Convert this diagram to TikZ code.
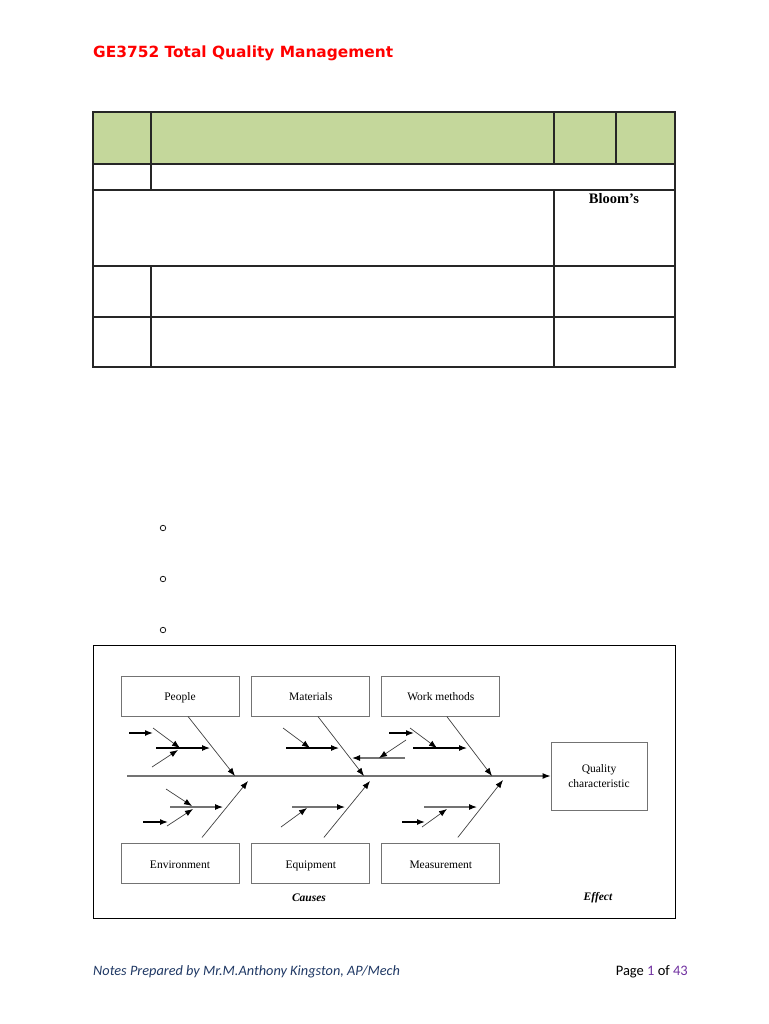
\documentclass[tikz,border=0pt]{standalone}
\usepackage{fontspec}
\setmainfont{Liberation Serif}
\newfontfamily\titlefont{DejaVu Sans}
\newfontfamily\footfont{Carlito}
\usetikzlibrary{positioning,arrows.meta}
\definecolor{hdrgreen}{HTML}{C4D79B}
\definecolor{titlered}{HTML}{FF0000}
\definecolor{footblue}{HTML}{1F3864}
\definecolor{pagepurple}{HTML}{7030A0}

\begin{document}
\begin{tikzpicture}[x=1pt,y=-1pt,
    tbl/.style={draw=black!85,line width=1.2pt},
    cause/.style={draw=black!55,line width=0.9pt,minimum width=118pt,minimum height=40pt,
      inner sep=0pt,text height=10pt,text depth=1pt,font=\fontsize{11.5}{15}\selectfont},
    bone/.style={draw=black!75,line width=0.7pt,-{Latex[length=8pt,width=6pt,color=black]}},
    rib/.style={bone,draw=black!55,line width=1.1pt},
    bar/.style={bone,draw=black,line width=1.1pt},
    stub/.style={bone,draw=black,line width=1.4pt}]
  \useasboundingbox (0,0) rectangle (768,1024);

  % heading
  \node[anchor=base west,inner sep=0pt,text=titlered,
    font=\titlefont\bfseries\fontsize{15.4}{18}\selectfont] (title) at (93,58)
    {GE3752 Total Quality Management};

  % question table
  \fill[hdrgreen] (93,112) rectangle (675,164);
  \draw[tbl] (93,112) rectangle (675,367);
  \foreach \y in {164,190,266,317}
    \draw[tbl] (93,\y) -- (675,\y);
  \draw[tbl] (151,112) -- (151,190) (151,266) -- (151,367)
    (554,112) -- (554,164) (554,190) -- (554,367)
    (616,112) -- (616,164);
  \node[font=\bfseries\fontsize{14.5}{17}\selectfont] (blooms) at (614,199) {Bloom’s};

  % bullets
  \foreach \y [count=\i] in {528,579,630}
    \node[circle,draw,line width=0.7pt,inner sep=0pt,minimum size=5.5pt] (bul\i) at (163,\y) {};

  % fishbone frame
  \draw[line width=1pt] (93,645) rectangle (675,918);

  % cause boxes
  \node[cause] (people) at (180,696) {People};
  \node[cause] (materials) [right=12pt of people] {Materials};
  \node[cause] (methods) [right=11pt of materials] {Work methods};
  \node[cause] (environment) [below=127pt of people] {Environment};
  \node[cause] (equipment) [below=127pt of materials] {Equipment};
  \node[cause] (measurement) [below=127pt of methods] {Measurement};
  \node[cause,minimum width=96pt,minimum height=68pt,align=center,text height=,text depth=]
    (quality) at (599,776) {Quality\\characteristic};
  \node[font=\bfseries\itshape\fontsize{11.5}{14}\selectfont] (causes) at (309,898) {Causes};
  \node[font=\bfseries\itshape\fontsize{11.5}{14}\selectfont] (effect) at (598,898) {Effect};

  % spine and main bones
  \coordinate (tail) at (127,776);
  \coordinate (pJ) at (235,776);
  \coordinate (mJ) at (364,776);
  \coordinate (wJ) at (492,776);
  \coordinate (eJ) at (248,781);
  \coordinate (qJ) at (370,781);
  \coordinate (sJ) at (503,780);
  \draw[rib] (tail) -- (quality);
  \path
    ([xshift=8pt]people.south) edge[bone] (pJ)
    ([xshift=7pt]materials.south) edge[bone] (mJ)
    ([xshift=6pt]methods.south) edge[bone] (wJ)
    ([xshift=22pt,yshift=6pt]environment.north) edge[bone] (eJ)
    ([xshift=13pt,yshift=6pt]equipment.north) edge[bone] (qJ)
    ([xshift=17pt,yshift=6pt]measurement.north) edge[bone] (sJ);

  % people ribs
  \coordinate (p1s) at (129,733); \coordinate (p1e) at (153,733);
  \coordinate (p2s) at (153,728); \coordinate (p2e) at (180,748);
  \coordinate (p3s) at (156,748); \coordinate (p3e) at (210,748);
  \coordinate (p4s) at (152,767); \coordinate (p4e) at (178,750);
  % materials ribs
  \coordinate (m1s) at (283,728); \coordinate (m1e) at (310,748);
  \coordinate (m2s) at (286,748); \coordinate (m2e) at (339,748);
  \coordinate (m3s) at (405,758); \coordinate (m3e) at (352,758);
  \coordinate (m4s) at (406,740); \coordinate (m4e) at (379,758);
  % work methods ribs
  \coordinate (w1s) at (389,733); \coordinate (w1e) at (414,733);
  \coordinate (w2s) at (410,728); \coordinate (w2e) at (437,748);
  \coordinate (w3s) at (413,748); \coordinate (w3e) at (467,748);
  % environment ribs
  \coordinate (e1s) at (166,789); \coordinate (e1e) at (192,806);
  \coordinate (e2s) at (170,807); \coordinate (e2e) at (223,807);
  \coordinate (e3s) at (143,822); \coordinate (e3e) at (168,822);
  \coordinate (e4s) at (167,826); \coordinate (e4e) at (193,809);
  % equipment ribs
  \coordinate (q1s) at (292,807); \coordinate (q1e) at (345,807);
  \coordinate (q2s) at (281,827); \coordinate (q2e) at (307,808);
  % measurement ribs
  \coordinate (s1s) at (424,807); \coordinate (s1e) at (477,807);
  \coordinate (s2s) at (402,822); \coordinate (s2e) at (425,822);
  \coordinate (s3s) at (422,827); \coordinate (s3e) at (447,809);

  \path
    (p1s) edge[stub] (p1e)
    (p2s) edge[bone] (p2e)
    (p3s) edge[bar] (p3e)
    (p4s) edge[bone] (p4e)
    (m1s) edge[bone] (m1e)
    (m2s) edge[bar] (m2e)
    (m3s) edge[rib] (m3e)
    (m4s) edge[bone] (m4e)
    (w1s) edge[stub] (w1e)
    (w2s) edge[bone] (w2e)
    (w3s) edge[bar] (w3e)
    (e1s) edge[bone] (e1e)
    (e2s) edge[rib] (e2e)
    (e3s) edge[stub] (e3e)
    (e4s) edge[bone] (e4e)
    (q1s) edge[rib] (q1e)
    (q2s) edge[bone] (q2e)
    (s1s) edge[rib] (s1e)
    (s2s) edge[stub] (s2e)
    (s3s) edge[bone] (s3e);

  % footer
  \node[anchor=base west,inner sep=0pt,text=footblue,
    font=\footfont\itshape\fontsize{14.3}{17}\selectfont] (notes) at (93,975)
    {Notes Prepared by Mr.M.Anthony Kingston, AP/Mech};
  \node[anchor=base east,inner sep=0pt,font=\footfont\fontsize{14.5}{17}\selectfont] (page) at (688,975)
    {Page \textcolor{pagepurple}{1} of \textcolor{pagepurple}{43}};
\end{tikzpicture}
\end{document}
